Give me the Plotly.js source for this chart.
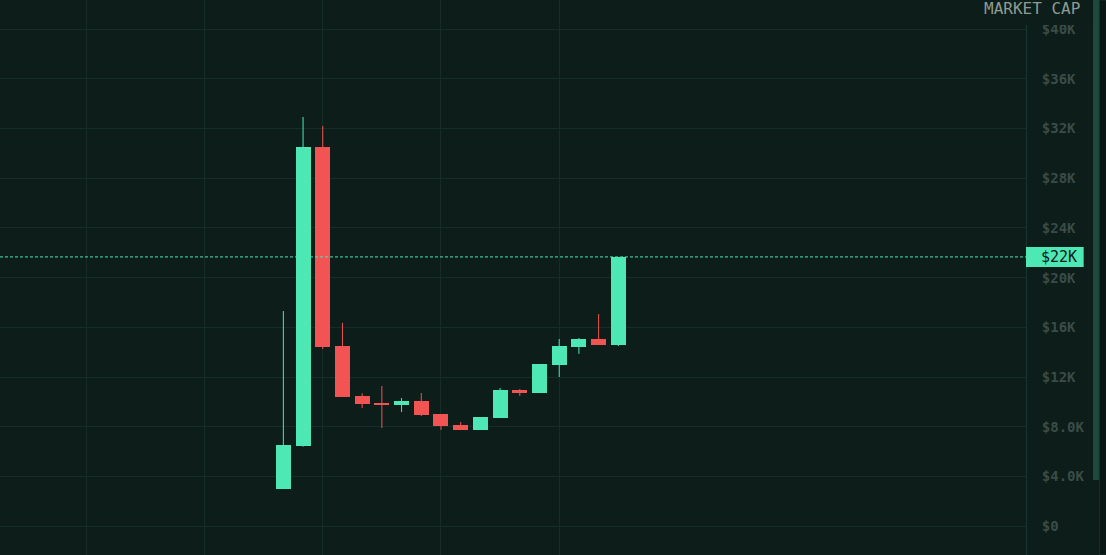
<!DOCTYPE html>
<html>
<head>
<meta charset="utf-8">
<script src="https://cdn.plot.ly/plotly-3.0.1.min.js"></script>
<style>
  html, body { margin: 0; padding: 0; background: #0c1d1a; }
  #chart { width: 1106px; height: 555px; }
</style>
</head>
<body>
<div id="chart"></div>
<script>
// ---- data (market cap, USD) ----
const opens  = [3000, 6460, 30520, 14500, 10480, 9920, 9760, 10080, 9030, 8150, 7750, 8710, 10970, 10720, 12980, 14420, 15070, 14580];
const highs  = [17320, 32930, 32200, 16360, 10700, 11290, 10320, 10720, 9030, 8390, 8790, 11130, 11050, 13060, 15070, 15150, 17080, 21670];
const lows   = [3000, 6400, 14260, 10400, 9520, 7910, 9200, 8870, 7750, 7750, 7750, 8710, 10480, 10720, 12010, 13870, 14580, 14500];
const closes = [6540, 30520, 14420, 10400, 9840, 9760, 10080, 8950, 8070, 7750, 8790, 10970, 10720, 13060, 14500, 15070, 14580, 21670];
const yTickVals  = [0, 4000, 8000, 12000, 16000, 20000, 24000, 28000, 32000, 36000, 40000];
const yTickTexts = ['$0', '$4.0K', '$8.0K', '$12K', '$16K', '$20K', '$24K', '$28K', '$32K', '$36K', '$40K'];
const xGridVals  = [-10, -4, 2, 8, 14];
const axisTitle  = 'MARKET CAP';

// ---- colours ----
const UP = '#4de8b4', DOWN = '#f25454', BG = '#0c1d1a', GRID = '#152c27';

const idx = opens.map((_, i) => i);
const isUp = opens.map((o, i) => closes[i] >= o);
const base = opens.map((o, i) => Math.min(o, closes[i]));
const bodyH = opens.map((o, i) => Math.max(Math.abs(closes[i] - o), 1));

function wick(up) {
  const xs = [], ys = [];
  idx.forEach(i => { if (isUp[i] === up) { xs.push(i, i, null); ys.push(lows[i], highs[i], null); } });
  return { type: 'scatter', mode: 'lines', x: xs, y: ys, line: { color: up ? UP : DOWN, width: 1 }, hoverinfo: 'skip', showlegend: false };
}

const bodies = {
  type: 'bar', x: idx, y: bodyH, base: base, width: 0.76,
  marker: { color: isUp.map(u => u ? UP : DOWN), line: { width: 0 } },
  showlegend: false, hoverinfo: 'skip'
};

const last = closes[closes.length - 1];
const lastLabel = '$' + Math.round(last / 1000) + 'K';

const layout = {
  width: 1106, height: 555,
  margin: { l: 0, r: 80, t: 0, b: 0 },
  paper_bgcolor: BG, plot_bgcolor: BG,
  showlegend: false,
  bargap: 0,
  xaxis: {
    range: [-14.38, 37.69],
    tickvals: xGridVals, showticklabels: false, ticks: '',
    showgrid: true, gridcolor: GRID, gridwidth: 1,
    zeroline: false, showline: false, fixedrange: true
  },
  yaxis: {
    side: 'right',
    range: [-2310, 42340],
    tickvals: yTickVals, ticktext: yTickTexts, ticks: '',
    ticklabelstandoff: 12,
    tickfont: { family: 'DejaVu Sans Mono, monospace', size: 14, color: '#3a4c46', weight: 'bold' },
    showgrid: true, gridcolor: GRID, gridwidth: 1,
    zeroline: false, showline: true, linecolor: '#183630', linewidth: 1, fixedrange: true
  },
  shapes: [
    // price line
    { type: 'line', xref: 'paper', x0: 0, x1: 1, yref: 'y', y0: last, y1: last,
      line: { color: UP, width: 1, dash: '3px,2px' }, layer: 'above' },
    // price label box
    { type: 'rect', xref: 'paper', x0: 1, x1: 1.0562, yref: 'y', ysizemode: 'pixel', yanchor: last, y0: -10, y1: 10,
      fillcolor: UP, line: { width: 0 }, layer: 'above' },
    // header cover
    { type: 'rect', xref: 'paper', x0: 0.95, x1: 1.0653, yref: 'paper', y0: 0.955, y1: 1.0,
      fillcolor: BG, line: { width: 0 }, layer: 'above' },
    // scrollbar
    { type: 'rect', xref: 'paper', x0: 1.0653, x1: 1.0716, yref: 'paper', y0: 0.135, y1: 1.0,
      fillcolor: '#1d4a3b', line: { width: 0 }, layer: 'above' },
    // right strip
    { type: 'rect', xref: 'paper', x0: 1.0716, x1: 1.08, yref: 'paper', y0: 0, y1: 1.0,
      fillcolor: '#0a1714', line: { color: '#16302a', width: 1 }, layer: 'above' }
  ],
  annotations: [
    { xref: 'paper', yref: 'y', x: 1, y: last, xanchor: 'left', yanchor: 'middle', xshift: 13,
      text: lastLabel, showarrow: false,
      font: { family: 'DejaVu Sans Mono, monospace', size: 15, color: '#0b1a17' } },
    { xref: 'paper', yref: 'paper', x: 1.0543, y: 1, xanchor: 'right', yanchor: 'top', yshift: 3,
      text: axisTitle, showarrow: false,
      font: { family: 'DejaVu Sans Mono, monospace', size: 16, color: '#8d9b93' } }
  ]
};

Plotly.newPlot('chart', [wick(true), wick(false), bodies], layout, { displayModeBar: false, staticPlot: true });
</script>
</body>
</html>
